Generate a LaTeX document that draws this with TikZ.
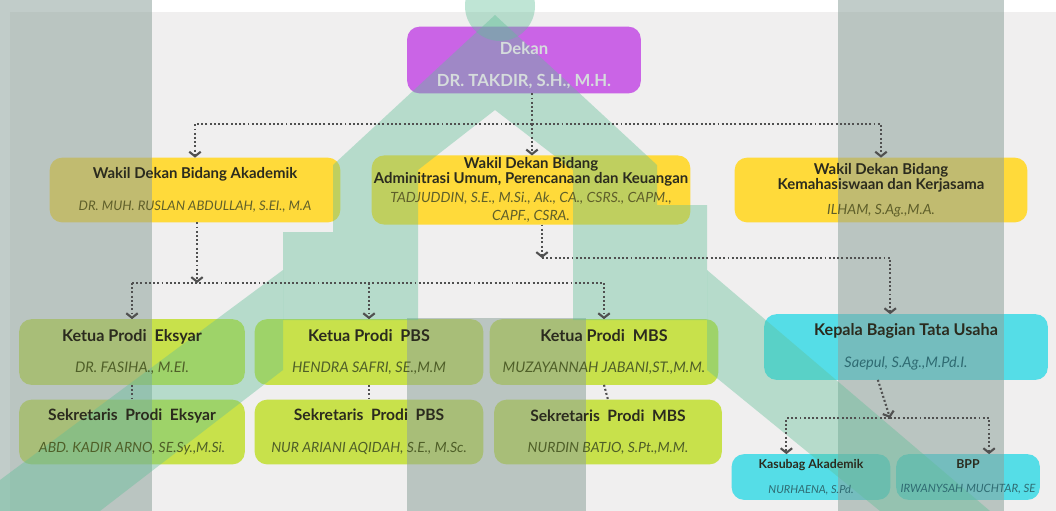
\documentclass[tikz,border=0pt]{standalone}
\usepackage{fontspec}
\setmainfont{Lato}
\usetikzlibrary{arrows.meta}
\pgfdeclarelayer{back}
\pgfdeclarelayer{mark}
\pgfsetlayers{back,mark,main}
\definecolor{paper}{HTML}{F0EFEF}
\definecolor{purp}{HTML}{CA64E6}
\definecolor{yel}{HTML}{FFDA3A}
\definecolor{lime}{HTML}{C8E14B}
\definecolor{tuc}{HTML}{55DDE7}
\definecolor{ink}{HTML}{2B2B1E}
\definecolor{dektxt}{HTML}{D5DCDC}
\definecolor{olv}{HTML}{5F5F2A}
\definecolor{grn}{HTML}{4F5F28}
\definecolor{teal}{HTML}{2F6B72}
\definecolor{dotc}{HTML}{505050}
\definecolor{wmgray}{HTML}{8FA39D}
\definecolor{wmgreen}{HTML}{5FBF97}
\newcommand\jt[2][8.5]{{\fontsize{#1}{9}\selectfont\bfseries\color{ink}#2}}
\newcommand\jn[3][7.5]{{\fontsize{#1}{9}\selectfont\itshape\color{#2}#3}}
\begin{document}
\begin{tikzpicture}[x=0.02cm,y=-0.02cm,
  box/.style={inner sep=1pt,align=center,minimum height=1.3cm},
  link/.style={dotc,line width=1.2pt,dash pattern=on 1.1pt off 1.3pt},
  arrowed/.style={-{Straight Barb[length=2.6pt,width=6.5pt,line width=1.2pt]}},
  wmg/.style={wmgray,opacity=0.55},
  wmv/.style={wmgreen,opacity=0.4}]
\useasboundingbox (0,0) rectangle (1056,511);
% dekan
\node[box,minimum width=4.66cm,minimum height=1.32cm,text=dektxt,
  font=\fontsize{9.5}{11}\selectfont\bfseries] (dekan) at (524,60)
  {\rule{0pt}{13pt}Dekan\\[7pt]DR. TAKDIR, S.H., M.H.};
% wakil dekan
\node[box,minimum width=5.8cm,minimum height=1.28cm] (wakad) at (195,190)
  {\jt{Wakil Dekan Bidang Akademik}\\[6pt]\jn{olv}{DR. MUH. RUSLAN ABDULLAH, S.EI., M.A}};
\node[box,minimum width=6.26cm,minimum height=1.28cm] (wadmin) at (531,190)
  {\jt{Wakil Dekan Bidang}\\[-3.5pt]\jt{Adminitrasi Umum, Perencanaan dan Keuangan}\\[-1pt]
   \jn[8]{olv}{TADJUDDIN, S.E., M.Si., Ak., CA., CSRS., CAPM.,}\\[-2pt]\jn[8]{olv}{CAPF., CSRA.}};
\node[box,minimum width=5.84cm,minimum height=1.28cm] (wmhs) at (881,190)
  {\jt{Wakil Dekan Bidang}\\[-3.5pt]\jt{Kemahasiswaan dan Kerjasama}\\[2pt]\jn[8]{olv}{ILHAM, S.Ag.,M.A.}};
% ketua prodi
\node[box,minimum width=4.5cm] (keksyar) at (132,352)
  {\jt[9.2]{Ketua Prodi\ \ Eksyar}\\[6pt]\jn[8.3]{grn}{DR. FASIHA., M.EI.}};
\node[box,minimum width=4.56cm] (kpbs) at (369,352)
  {\jt[9.2]{Ketua Prodi\ \ PBS}\\[6pt]\jn[8.3]{grn}{HENDRA SAFRI, SE.,M.M}};
\node[box,minimum width=4.56cm] (kmbs) at (604,352)
  {\jt[9.2]{Ketua Prodi\ \ MBS}\\[6pt]\jn[8.3]{grn}{MUZAYANNAH JABANI,ST.,M.M.}};
\node[box,minimum width=5.66cm] (kepala) at (906,347)
  {\jt[9.2]{Kepala Bagian Tata Usaha}\\[6pt]\jn[8.3]{teal}{Saepul, S.Ag.,M.Pd.I.}};
% sekretaris prodi
\node[box,minimum width=4.5cm,minimum height=1.28cm] (seksyar) at (132,432)
  {\jt[8.9]{Sekretaris\ \ Prodi\ \ Eksyar}\\[6pt]\jn[8]{grn}{ABD. KADIR ARNO, SE.Sy.,M.Si.}};
\node[box,minimum width=4.56cm,minimum height=1.28cm] (spbs) at (369,432)
  {\jt[8.9]{Sekretaris\ \ Prodi\ \ PBS}\\[6pt]\jn[8]{grn}{NUR ARIANI AQIDAH, S.E., M.Sc.}};
\node[box,minimum width=4.54cm,minimum height=1.28cm] (smbs) at (608,432)
  {\jt[8.9]{Sekretaris\ \ Prodi\ \ MBS}\\[6pt]\jn[8]{grn}{NURDIN BATJO, S.Pt.,M.M.}};
% tata usaha
\node[box,minimum width=3.16cm,minimum height=0.9cm] (kasubag) at (811,477)
  {\jt[7]{Kasubag Akademik}\\[2pt]\jn[6.3]{teal}{NURHAENA, S.Pd.}};
\node[box,minimum width=2.86cm,minimum height=0.9cm] (bpp) at (968,477)
  {\jt[7]{BPP}\\[2pt]\jn[6.5]{teal}{IRWANYSAH MUCHTAR, SE}};
% connectors
\coordinate (b1) at (532,124);
\coordinate (b2) at (197,283);
\coordinate (b3) at (542,258);
\coordinate (b4) at (890,418);
\draw[link] (dekan.south -| b1) -- (b1);
\draw[link,arrowed] (b1) -| (wakad.north);
\draw[link,arrowed] (b1) -- (wadmin.north -| b1);
\draw[link,arrowed] (b1) -| (wmhs.north);
\draw[link,arrowed] (wakad.south -| b2) -- (b2);
\draw[link] (keksyar.north |- b2) -- (kmbs.north |- b2);
\foreach \k in {keksyar,kpbs,kmbs}
  \draw[link,arrowed] (\k.north |- b2) -- (\k.north);
\draw[link,arrowed] (wadmin.south -| b3) -- (b3);
\draw[link,arrowed] (b3) -| ([xshift=-9]kepala.north);
\foreach \k/\s in {keksyar/seksyar,kpbs/spbs,kmbs/smbs}
  \draw[link] (\k.south) -- (\s.north);
\draw[link,arrowed] ([xshift=-16]kepala.south) -- (b4);
\draw[link,arrowed] (b4) -| ([xshift=-14]kasubag.north);
\draw[link,arrowed] (b4) -| ([xshift=12]bpp.north);
% boxes and backdrop
\begin{pgfonlayer}{back}
\fill[white] (0,0) rectangle (1056,511);
\fill[paper] (10,12) rectangle (1056,511);
\foreach \n/\c in {dekan/purp,wakad/yel,wadmin/yel,wmhs/yel,keksyar/lime,kpbs/lime,kmbs/lime,
    seksyar/lime,spbs/lime,smbs/lime,kepala/tuc,kasubag/tuc,bpp/tuc}
  \fill[\c,rounded corners=7pt] (\n.south west) rectangle (\n.north east);
\end{pgfonlayer}
% watermark
\begin{pgfonlayer}{mark}
\fill[wmg] (0,0) rectangle (152,511);
\fill[wmg] (838,0) rectangle (1004,511);
\fill[wmg] (407,318) rectangle (586,511);
\fill[wmv] (500,6) circle (35);
\fill[wmv] (333,165) -- (495,15) -- (657,165) -- (657,205) -- (707,205) -- (707,320)
  -- (573,320) -- (573,170) -- (495,110) -- (418,170) -- (418,320) -- (283,320)
  -- (283,232) -- (333,232) -- cycle;
\fill[wmv] (283,270) -- (283,370) -- (100,511) -- (0,511) -- (0,480) -- cycle;
\fill[wmv] (707,270) -- (990,511) -- (880,511) -- (707,370) -- cycle;
\end{pgfonlayer}
\end{tikzpicture}
\end{document}
